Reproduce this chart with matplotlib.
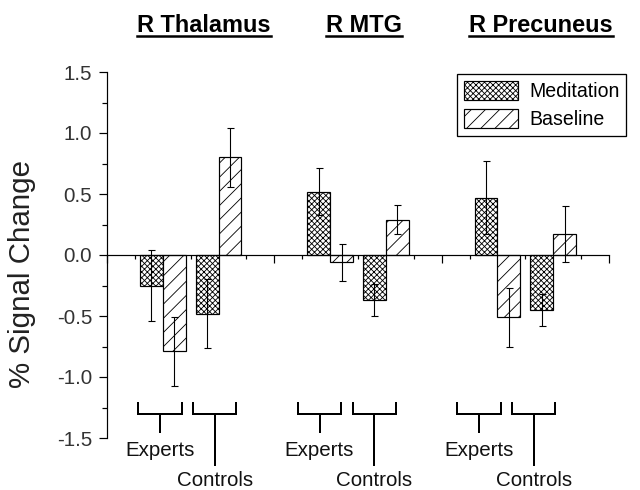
import matplotlib
matplotlib.use('Agg')
import matplotlib.pyplot as plt
import numpy as np
from matplotlib.lines import Line2D

# ---------------- data ----------------
regions = ['R Thalamus', 'R MTG', 'R Precuneus']
groups = ['Experts', 'Controls']
conditions = ['Meditation', 'Baseline']
# order: Thalamus-Experts, Thalamus-Controls, MTG-Experts, MTG-Controls, Precuneus-Experts, Precuneus-Controls
meditation = [-0.25, -0.48, 0.52, -0.37, 0.47, -0.45]
meditation_err = [0.29, 0.28, 0.19, 0.13, 0.30, 0.13]
baseline = [-0.79, 0.80, -0.06, 0.29, -0.51, 0.17]
baseline_err = [0.28, 0.24, 0.15, 0.12, 0.24, 0.23]
group_x = [2, 4, 8, 10, 14, 16]
bracket_x = [1.9, 3.86, 7.62, 9.59, 13.34, 15.3]
title_x = [3.48, 9.21, 15.56]
ytick_vals = [-1.5, -1.0, -0.5, 0.0, 0.5, 1.0, 1.5]
ytick_labels = ['-1.5', '-1.0', '-0.5', '0.0', '0.5', '1.0', '1.5']

DPI = 85
W, H = 640, 490


def pt(px):
    return px * 72.0 / DPI


plt.rcParams['font.family'] = ['Liberation Sans', 'DejaVu Sans']
plt.rcParams['hatch.linewidth'] = pt(0.85)
plt.rcParams['hatch.color'] = 'black'

fig = plt.figure(figsize=(W / DPI, H / DPI), dpi=DPI)
ax = fig.add_axes([107 / W, 52 / H, 502 / W, 366 / H])

x = np.array(group_x, dtype=float)
bw = 0.82
ax.bar(x - bw / 2, meditation, bw, facecolor='white', edgecolor='black',
       hatch='xxxxx', linewidth=pt(1.2), label=conditions[0], zorder=2)
ax.bar(x + bw / 2, baseline, bw, facecolor='white', edgecolor='black',
       hatch='//', linewidth=pt(1.2), label=conditions[1], zorder=2)
ax.errorbar(x - bw / 2, meditation, yerr=meditation_err, fmt='none', ecolor='black',
            elinewidth=pt(1.1), capsize=pt(3.5), capthick=pt(1.1), zorder=3)
ax.errorbar(x + bw / 2, baseline, yerr=baseline_err, fmt='none', ecolor='black',
            elinewidth=pt(1.1), capsize=pt(3.5), capthick=pt(1.1), zorder=3)

ax.set_xlim(0, 18)
ax.set_ylim(-1.5, 1.5)
ax.spines['top'].set_visible(False)
ax.spines['right'].set_visible(False)
ax.spines['bottom'].set_position(('data', 0))
ax.spines['left'].set_linewidth(pt(1.2))
ax.spines['bottom'].set_linewidth(pt(1.2))
ax.spines['bottom'].set_zorder(4)

ax.set_xticks([0, 6, 12, 18])
ax.set_xticks([1, 3, 5, 7, 9, 11, 13, 15, 17], minor=True)
ax.set_xticklabels([])
ax.tick_params(axis='x', which='major', direction='out', length=pt(8), width=pt(1.2))
ax.tick_params(axis='x', which='minor', direction='out', length=pt(4), width=pt(1.2))

ax.set_yticks(ytick_vals)
ax.set_yticklabels(ytick_labels)
ax.set_yticks(np.arange(-1.25, 1.3, 0.5), minor=True)
ax.tick_params(axis='y', which='major', direction='out', length=pt(8), width=pt(1.2),
               labelsize=pt(20.5), labelcolor='#333333', pad=pt(7))
ax.tick_params(axis='y', which='minor', direction='out', length=pt(5), width=pt(1.2))

fig.text(22 / W, 1 - 274 / H, '% Signal Change', rotation=90, ha='center', va='center',
         fontsize=pt(29.5), color='#222222')

# group brackets
half = 0.78
for i, bx in enumerate(bracket_x):
    is_exp = (i % 2 == 0)
    ax.plot([bx - half, bx - half, bx + half, bx + half], [-1.21, -1.30, -1.30, -1.21],
            color='black', lw=pt(2), clip_on=False, solid_joinstyle='miter')
    ax.plot([bx, bx], [-1.30, -1.45 if is_exp else -1.72], color='black', lw=pt(2),
            clip_on=False)
    ax.text(bx, -1.60 if is_exp else -1.845, groups[0] if is_exp else groups[1],
            ha='center', va='center', fontsize=pt(20.5), color='#111111', clip_on=False)

leg = ax.legend(loc='upper left', bbox_to_anchor=(457 / W, 1 - 74 / H),
                bbox_transform=fig.transFigure, fontsize=pt(19.5), handlelength=2.8,
                handleheight=1.13, labelspacing=0.41, handletextpad=0.55,
                borderpad=0.35, borderaxespad=0, fancybox=False, edgecolor='black',
                framealpha=1)
leg.get_frame().set_linewidth(pt(1.3))

# titles with underline
titles = []
for tx, name in zip(title_x, regions):
    xf = fig.transFigure.inverted().transform(ax.transData.transform((tx, 0)))[0]
    t = fig.text(xf, 1 - 32 / H, name, ha='center', va='baseline',
                 fontsize=pt(23.5), fontweight='bold', color='black')
    titles.append(t)

fig.canvas.draw()
renderer = fig.canvas.get_renderer()
for t in titles:
    bb = t.get_window_extent(renderer).transformed(fig.transFigure.inverted())
    fig.add_artist(Line2D([bb.x0, bb.x1], [1 - 35.5 / H, 1 - 35.5 / H],
                          transform=fig.transFigure, color='black', lw=pt(2.5)))

fig.savefig('out.png', dpi=DPI)
